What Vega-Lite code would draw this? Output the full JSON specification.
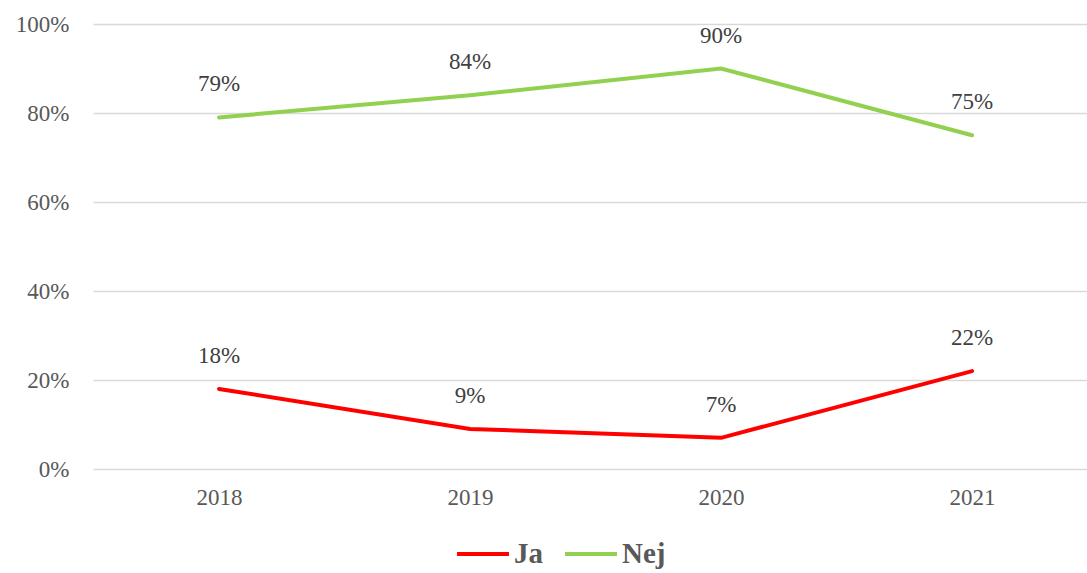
{
  "$schema": "https://vega.github.io/schema/vega-lite/v6.json",
  "width": 994,
  "height": 445,
  "autosize": "none",
  "padding": {"left": 93, "top": 24, "right": 0, "bottom": 104},
  "background": "white",
  "config": {"view": {"stroke": null}},
  "data": {
    "values": [
      {"year": "2018", "series": "Ja", "value": 0.18},
      {"year": "2019", "series": "Ja", "value": 0.09},
      {"year": "2020", "series": "Ja", "value": 0.07},
      {"year": "2021", "series": "Ja", "value": 0.22},
      {"year": "2018", "series": "Nej", "value": 0.79},
      {"year": "2019", "series": "Nej", "value": 0.84},
      {"year": "2020", "series": "Nej", "value": 0.90},
      {"year": "2021", "series": "Nej", "value": 0.75}
    ]
  },
  "encoding": {
    "x": {
      "field": "year", "type": "ordinal",
      "scale": {"type": "point", "padding": 0.48, "align": 0.523},
      "axis": {"title": null, "labelAngle": 0, "domain": false, "ticks": false, "grid": false, "labelPadding": 17, "labelFontSize": 23, "labelColor": "#595959", "labelFont": "Liberation Serif"}
    },
    "y": {
      "field": "value", "type": "quantitative",
      "scale": {"domain": [0, 1]},
      "axis": {"title": null, "format": ".0%", "values": [0, 0.2, 0.4, 0.6, 0.8, 1], "labelOverlap": false, "domain": false, "ticks": false, "labelPadding": 24, "labelFontSize": 23, "labelColor": "#595959", "labelFont": "Liberation Serif", "gridColor": "#D9D9D9", "gridWidth": 1.5}
    }
  },
  "layer": [
    {
      "mark": {"type": "line", "strokeWidth": 4, "strokeCap": "round"},
      "encoding": {
        "color": {
          "field": "series", "type": "nominal",
          "scale": {"domain": ["Ja", "Nej"], "range": ["#FF0000", "#92D050"]},
          "legend": {
            "title": null, "orient": "none", "direction": "horizontal",
            "legendX": 362, "legendY": 502,
            "symbolType": "stroke", "symbolSize": 2700, "symbolStrokeWidth": 4,
            "labelFontSize": 29, "labelFontWeight": "bold", "labelColor": "#595959", "labelFont": "Liberation Serif",
            "labelOffset": 3, "columnPadding": 14
          }
        }
      }
    },
    {
      "mark": {"type": "text", "dy": -33, "fontSize": 23, "font": "Liberation Serif", "color": "#404040"},
      "encoding": {
        "text": {"field": "value", "type": "quantitative", "format": ".0%"},
        "detail": {"field": "series"}
      }
    }
  ]
}
